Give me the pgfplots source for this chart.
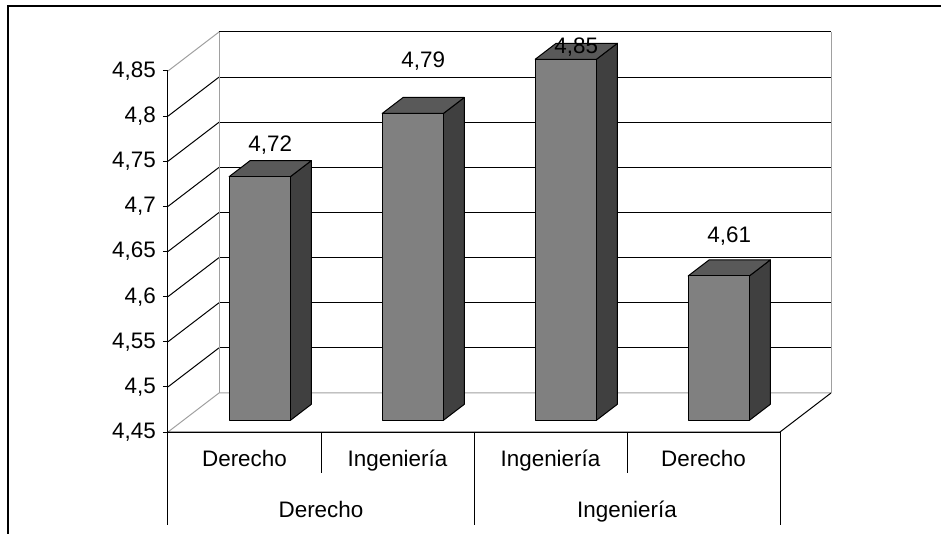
\documentclass[border=0pt]{standalone}
\usepackage{fontspec}
\setmainfont{Liberation Sans}
\usepackage{pgfplots}
\pgfplotsset{compat=1.18}

\definecolor{barfront}{HTML}{808080}
\definecolor{bartop}{HTML}{595959}
\definecolor{barside}{HTML}{404040}
\definecolor{wallgray}{HTML}{A0A0A0}

% one 3-D bar: #1 = left x, #2 = right x, #3 = value, #4 = value label, #5 = label lift
\newcommand{\cuboid}[5]{%
  \addplot3[fill=barside, draw=black, line width=1bp, line join=round]
    coordinates {(#2,0.30,4.45) (#2,0.71,4.45) (#2,0.71,#3) (#2,0.30,#3)} -- cycle;
  \addplot3[fill=bartop, draw=black, line width=1bp, line join=round]
    coordinates {(#1,0.30,#3) (#2,0.30,#3) (#2,0.71,#3) (#1,0.71,#3)} -- cycle;
  \addplot3[fill=barfront, draw=black, line width=1bp, line join=round]
    coordinates {(#1,0.30,4.45) (#2,0.30,4.45) (#2,0.30,#3) (#1,0.30,#3)} -- cycle;
  \node[anchor=base, yshift=#5, font=\fontsize{22.5}{27}\selectfont]
    at (axis cs:{(#1+#2)/2},0.505,#3) {#4};
}

% category separator below the floor: #1 = x position, #2 = length
\newcommand{\sep}[2]{%
  \draw[black, line width=1bp] (axis cs:#1,4.45) -- ([yshift=-#2]axis cs:#1,4.45);
}

\begin{document}
\begin{tikzpicture}

% walls, floor and bars
\begin{axis}[
  x={(153bp,0bp)}, y={(51bp,39bp)}, z={(0bp,902.5bp)},
  xmin=0, xmax=4, ymin=0, ymax=1, zmin=4.45, zmax=4.85,
  hide axis, clip=false,
]
  \coordinate (O) at (axis cs:0,0,4.45);
  % back wall grid
  \pgfplotsinvokeforeach{4.5,4.55,4.6,4.65,4.7,4.75,4.8,4.85}{
    \draw[black, line width=1bp] (axis cs:0,1,#1) -- (axis cs:4,1,#1);
  }
  % left wall lines
  \pgfplotsinvokeforeach{4.5,4.55,4.6,4.65,4.7,4.75,4.8}{
    \draw[black, line width=1bp] (axis cs:0,0,#1) -- (axis cs:0,1,#1);
  }
  \draw[wallgray, line width=1bp] (axis cs:0,0,4.85) -- (axis cs:0,1,4.85);
  \draw[wallgray, line width=1bp] (axis cs:0,0,4.45) -- (axis cs:0,1,4.45)
    -- (axis cs:4,1,4.45);
  \draw[wallgray, line width=1bp] (axis cs:0,1,4.45) -- (axis cs:0,1,4.85);
  \draw[wallgray, line width=1bp] (axis cs:4,1,4.45) -- (axis cs:4,1,4.85);
  % floor front and right edge
  \draw[black, line width=1bp] (axis cs:0,0,4.45) -- (axis cs:4,0,4.45)
    -- (axis cs:4,1,4.45);

  \cuboid{0.30}{0.70}{4.72}{4,72}{17.6bp}
  \cuboid{1.30}{1.70}{4.79}{4,79}{37.5bp}
  \cuboid{2.30}{2.70}{4.85}{4,85}{-1.7bp}
  \cuboid{3.30}{3.70}{4.61}{4,61}{25bp}
\end{axis}

% front plane: value ticks and the two rows of category labels
\begin{axis}[
  at={(O)}, anchor=south west,
  x=153bp, y=902.5bp,
  xmin=0, xmax=4, ymin=4.45, ymax=4.85,
  enlargelimits=false,
  axis x line*=bottom, axis y line*=left,
  axis line style={-, black, line width=1bp},
  ytick={4.45,4.5,4.55,4.6,4.65,4.7,4.75,4.8,4.85},
  /pgf/number format/use comma,
  /pgf/number format/fixed,
  /pgf/number format/precision=2,
  /pgf/number format/assume math mode=true,
  ytick align=outside, major tick length=5bp,
  y tick style={black, line width=1bp},
  yticklabel style={anchor=east, inner sep=0pt, xshift=-7bp},
  xtick={0.5,1.5,2.5,3.5},
  xticklabels={Derecho, Ingeniería, Ingeniería, Derecho},
  x tick style={draw=none},
  xticklabel style={anchor=base, yshift=-34bp},
  extra x ticks={1,3},
  extra x tick labels={Derecho, Ingeniería},
  extra x tick style={xticklabel style={yshift=-51bp},
    major tick length=0pt, tick style={draw=none}, grid=none},
  tick label style={font=\fontsize{22.5}{27}\selectfont, text=black},
  clip=false,
]
  \sep{0}{93bp}
  \sep{1}{41bp}
  \sep{2}{93bp}
  \sep{3}{41bp}
  \sep{4}{93bp}
\end{axis}

% outer frame
\draw[black, line width=1.3bp] ([shift={(-160bp,-120bp)}]O) -- ([shift={(-160bp,426bp)}]O)
  -- ([shift={(800bp,426bp)}]O);

\pgfresetboundingbox
\path[use as bounding box] ([shift={(-168bp,-102bp)}]O) rectangle ([shift={(773bp,432bp)}]O);
\end{tikzpicture}
\end{document}
